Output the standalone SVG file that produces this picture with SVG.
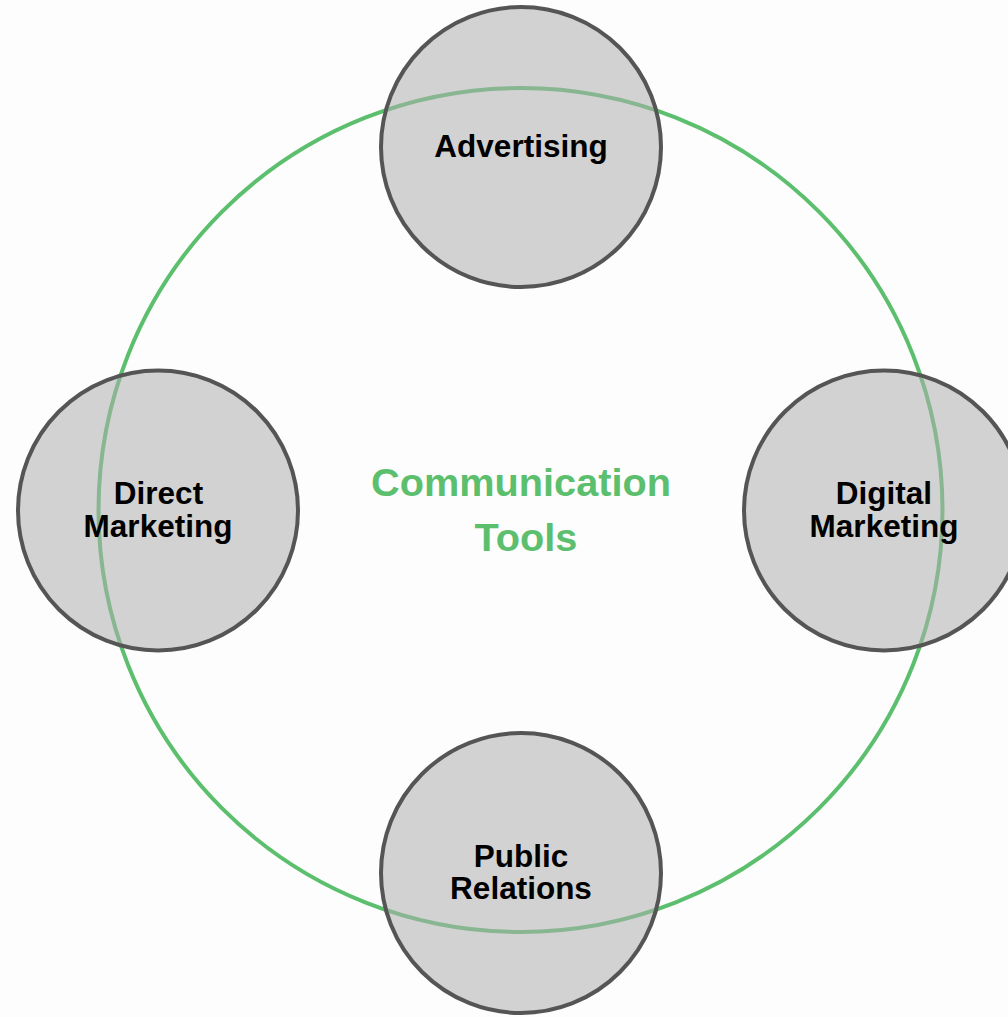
<svg xmlns="http://www.w3.org/2000/svg" width="1008" height="1017" viewBox="0 0 1008 1017">
  <style>
    .ring { fill: none; stroke: #5cbf6e; stroke-width: 4; }
    .node { fill: rgb(174,174,174); fill-opacity: 0.54; stroke: #555555; stroke-width: 4; }
    .lbl { font-family: "Liberation Sans", Arial, sans-serif; font-weight: bold; font-size: 31.5px; fill: #000000; text-anchor: middle; }
    .title { font-family: "Liberation Sans", Arial, sans-serif; font-weight: bold; font-size: 39.7px; fill: #5cbf6e; text-anchor: middle; }
  </style>
  <rect x="0" y="0" width="1008" height="1017" fill="#fdfdfd"/>
  <g id="connectors">
    <circle class="ring" cx="520.5" cy="510" r="422"/>
  </g>
  <g id="center">
    <text class="title" x="521" y="496">Communication</text>
    <text class="title" x="526" y="551">Tools</text>
  </g>
  <g id="advertising">
    <circle class="node" cx="521" cy="147" r="140"/>
    <text class="lbl" x="521" y="157">Advertising</text>
  </g>
  <g id="direct-marketing">
    <circle class="node" cx="158" cy="510.5" r="140"/>
    <text class="lbl" x="158.5" y="504">Direct</text>
    <text class="lbl" x="158" y="537">Marketing</text>
  </g>
  <g id="digital-marketing">
    <circle class="node" cx="884" cy="510.5" r="140"/>
    <text class="lbl" x="884" y="504">Digital</text>
    <text class="lbl" x="884" y="537">Marketing</text>
  </g>
  <g id="public-relations">
    <circle class="node" cx="521" cy="873" r="140"/>
    <text class="lbl" x="521" y="867">Public</text>
    <text class="lbl" x="521" y="899">Relations</text>
  </g>
</svg>
